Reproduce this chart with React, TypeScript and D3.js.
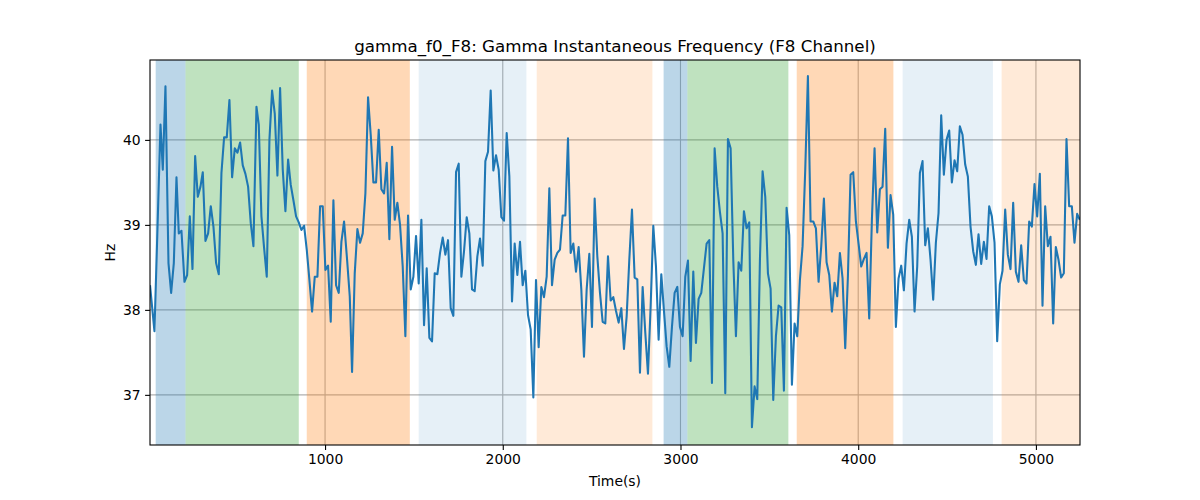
import React, { useEffect, useRef } from 'react';
import * as d3 from 'd3';

// time (s) of each sample
const times = [
  15, 40, 57, 74, 87, 102, 119, 134, 149, 164, 177, 192, 209, 224, 239, 254, 269, 284, 299, 312,
  327, 342, 357, 372, 387, 402, 417, 432, 447, 462, 477, 492, 507, 522, 537, 552, 567, 582, 597, 614,
  627, 642, 657, 672, 687, 702, 717, 732, 747, 762, 777, 792, 807, 822, 837, 852, 867, 882, 897, 912,
  927, 942, 957, 972, 987, 1002, 1017, 1032, 1047, 1062, 1077, 1092, 1107, 1124, 1139, 1152, 1167, 1182, 1197, 1212,
  1227, 1242, 1257, 1272, 1287, 1302, 1317, 1332, 1347, 1362, 1377, 1392, 1407, 1422, 1437, 1452, 1467, 1482, 1497, 1512,
  1527, 1542, 1557, 1572, 1587, 1602, 1617, 1632, 1647, 1662, 1677, 1692, 1707, 1722, 1737, 1752, 1767, 1782, 1797, 1812,
  1827, 1842, 1857, 1872, 1887, 1902, 1917, 1932, 1947, 1962, 1977, 1992, 2007, 2022, 2037, 2052, 2067, 2082, 2097, 2112,
  2127, 2142, 2157, 2172, 2187, 2202, 2217, 2232, 2247, 2262, 2277, 2292, 2307, 2322, 2337, 2352, 2367, 2382, 2397, 2412,
  2427, 2442, 2457, 2472, 2487, 2502, 2517, 2532, 2547, 2562, 2577, 2592, 2607, 2622, 2637, 2652, 2667, 2682, 2697, 2712,
  2727, 2742, 2757, 2772, 2787, 2802, 2817, 2832, 2847, 2862, 2877, 2892, 2907, 2922, 2937, 2952, 2967, 2982, 2997, 3012,
  3027, 3042, 3057, 3072, 3087, 3102, 3117, 3132, 3147, 3162, 3177, 3192, 3207, 3222, 3237, 3252, 3267, 3282, 3297, 3312,
  3327, 3342, 3357, 3372, 3387, 3402, 3417, 3432, 3447, 3462, 3477, 3492, 3507, 3522, 3537, 3552, 3567, 3582, 3597, 3612,
  3627, 3642, 3657, 3672, 3687, 3702, 3717, 3732, 3747, 3762, 3777, 3792, 3807, 3822, 3837, 3852, 3867, 3882, 3897, 3912,
  3927, 3942, 3957, 3972, 3987, 4002, 4017, 4032, 4047, 4062, 4077, 4092, 4107, 4122, 4137, 4152, 4167, 4182, 4197, 4212,
  4227, 4242, 4257, 4272, 4287, 4302, 4317, 4332, 4347, 4362, 4377, 4392, 4407, 4422, 4437, 4452, 4467, 4482, 4497, 4512,
  4527, 4542, 4557, 4572, 4587, 4602, 4617, 4632, 4647, 4662, 4677, 4692, 4707, 4722, 4737, 4752, 4767, 4782, 4797, 4812,
  4827, 4842, 4857, 4872, 4887, 4902, 4917, 4932, 4947, 4962, 4977, 4992, 5007, 5022, 5037, 5052, 5067, 5082, 5097, 5112,
  5127, 5142, 5157, 5172, 5187, 5202, 5217, 5232, 5247,
];

// instantaneous frequency (Hz)
const freq = [
  38.29, 37.75, 38.95, 40.18, 39.65, 40.63, 38.55, 38.2, 38.55, 39.56, 38.9, 38.93, 38.33, 38.41, 39.1, 38.48, 39.81, 39.33, 39.45, 39.62,
  38.81, 38.9, 39.22, 38.98, 38.55, 38.42, 39.61, 40.03, 40.03, 40.47, 39.56, 39.9, 39.85, 39.97, 39.7, 39.6, 39.45, 39.02, 38.75, 40.39,
  40.18, 39.1, 38.73, 38.39, 40.0, 40.58, 40.31, 39.58, 40.61, 39.65, 39.16, 39.77, 39.47, 39.29, 39.1, 39.03, 38.94, 38.99, 38.71, 38.35,
  37.98, 38.39, 38.39, 39.22, 39.22, 38.47, 38.52, 37.86, 39.29, 38.29, 38.2, 38.8, 39.04, 38.59, 38.16, 37.27, 38.43, 38.95, 38.79, 38.9,
  39.37, 40.5, 40.06, 39.5, 39.5, 40.12, 39.42, 39.37, 39.73, 38.83, 39.92, 39.06, 39.26, 39.0, 38.51, 37.69, 39.11, 38.24, 38.39, 38.87,
  38.31, 39.06, 37.82, 38.49, 37.67, 37.63, 38.43, 38.42, 38.67, 38.85, 38.65, 38.82, 38.02, 37.93, 39.62, 39.72, 38.39, 38.69, 39.09, 38.9,
  38.24, 38.22, 38.63, 38.84, 38.52, 39.75, 39.86, 40.58, 39.64, 39.82, 39.65, 39.09, 39.05, 40.08, 39.57, 38.1, 38.78, 38.41, 38.8, 38.29,
  38.46, 37.94, 37.77, 36.97, 38.35, 37.56, 38.27, 38.15, 38.39, 39.43, 38.29, 38.59, 38.67, 38.71, 39.11, 39.11, 40.02, 38.67, 38.78, 38.45,
  38.74, 38.24, 37.45, 38.24, 38.66, 37.8, 39.31, 38.63, 38.2, 37.86, 37.84, 38.63, 38.11, 38.15, 37.99, 37.85, 38.02, 37.54, 37.92, 38.59,
  39.18, 38.38, 38.36, 37.26, 38.27, 37.73, 37.25, 38.04, 38.99, 38.51, 37.65, 38.42, 37.99, 37.57, 37.33, 37.8, 38.2, 38.27, 37.8, 37.69,
  38.39, 38.58, 37.4, 38.45, 37.61, 38.13, 38.2, 38.49, 38.78, 38.82, 37.14, 39.9, 39.45, 39.15, 38.9, 37.02, 40.01, 39.9, 38.59, 37.69,
  38.56, 38.46, 39.16, 38.96, 39.03, 36.62, 37.1, 36.95, 38.59, 39.63, 39.33, 38.43, 38.25, 36.94, 37.69, 38.05, 38.03, 37.05, 39.2, 38.88,
  37.12, 37.84, 37.69, 38.35, 38.75, 39.65, 40.75, 39.04, 39.04, 38.96, 38.33, 38.75, 39.31, 38.56, 38.41, 37.98, 38.32, 38.16, 38.67, 38.37,
  37.55, 38.39, 39.59, 39.62, 39.04, 38.78, 38.51, 38.6, 38.67, 37.9, 39.06, 39.9, 38.91, 39.42, 39.45, 40.13, 38.73, 39.35, 39.12, 37.8,
  38.37, 38.52, 38.23, 38.78, 39.06, 38.86, 37.98, 38.51, 39.61, 39.75, 38.76, 38.96, 38.59, 38.12, 38.79, 39.14, 40.29, 39.59, 40.0, 40.11,
  39.5, 39.76, 39.63, 40.16, 40.06, 39.71, 39.57, 38.98, 38.69, 38.53, 38.89, 38.54, 38.8, 38.6, 39.22, 39.1, 38.79, 37.63, 38.3, 38.46,
  39.18, 38.65, 38.48, 39.26, 38.45, 38.33, 38.76, 38.35, 38.31, 39.04, 38.98, 39.48, 39.1, 39.6, 38.05, 39.22, 38.75, 38.86, 37.84, 38.74,
  38.59, 38.38, 38.43, 40.01, 39.22, 39.22, 38.79, 39.13, 39.06,
];

// shaded segments (start s, end s, colour, opacity)
const bandStart = [47, 215, 897, 1527, 2191, 2905, 3039, 3654, 4250, 4807];
const bandEnd = [215, 852, 1477, 2133, 2842, 3039, 3607, 4198, 4758, 5260];
const bandColor = ['#1f77b4', '#2ca02c', '#ff7f0e', '#1f77b4', '#ff7f0e', '#1f77b4', '#2ca02c', '#ff7f0e', '#1f77b4', '#ff7f0e'];
const bandAlpha = [0.3, 0.3, 0.3, 0.11, 0.16, 0.3, 0.3, 0.3, 0.11, 0.16];

const xTicks = [1000, 2000, 3000, 4000, 5000];
const yTicks = [37, 38, 39, 40];

const App = () => {
  const svgRef = useRef<SVGSVGElement>(null);

  useEffect(() => {
    const svg = d3.select(svgRef.current);
    svg.selectAll('*').remove();

    const width = 1200;
    const height = 500;
    const m = { left: 150, right: 1080, top: 60, bottom: 445 };
    const font = 'DejaVu Sans, sans-serif';

    svg.attr('width', width).attr('height', height);
    svg.append('rect').attr('width', width).attr('height', height).attr('fill', '#fff');

    const x = d3.scaleLinear().domain([15, 5248]).range([m.left, m.right]);
    const y = d3.scaleLinear().domain([36.41, 40.94]).range([m.bottom, m.top]);

    const plot = svg.append('g');

    // clip to the axes box
    svg.append('defs').append('clipPath').attr('id', 'plotclip')
      .append('rect')
      .attr('x', m.left).attr('y', m.top)
      .attr('width', m.right - m.left).attr('height', m.bottom - m.top);

    // grid
    plot.selectAll('.gx').data(xTicks).enter().append('line')
      .attr('x1', d => x(d)).attr('x2', d => x(d))
      .attr('y1', m.top).attr('y2', m.bottom)
      .attr('stroke', '#b0b0b0').attr('stroke-width', 1.1);
    plot.selectAll('.gy').data(yTicks).enter().append('line')
      .attr('x1', m.left).attr('x2', m.right)
      .attr('y1', d => y(d)).attr('y2', d => y(d))
      .attr('stroke', '#b0b0b0').attr('stroke-width', 1.1);

    // shaded spans
    plot.append('g').attr('clip-path', 'url(#plotclip)')
      .selectAll('rect')
      .data(bandStart.map((s, i) => ({ s, e: bandEnd[i], c: bandColor[i], a: bandAlpha[i] })))
      .enter().append('rect')
      .attr('x', d => x(d.s))
      .attr('width', d => x(d.e) - x(d.s))
      .attr('y', m.top)
      .attr('height', m.bottom - m.top)
      .attr('fill', d => d.c)
      .attr('fill-opacity', d => d.a);

    // signal line
    const line = d3.line<number>()
      .x((_, i) => x(times[i]))
      .y(d => y(d));

    plot.append('path')
      .attr('clip-path', 'url(#plotclip)')
      .datum(freq)
      .attr('d', line)
      .attr('fill', 'none')
      .attr('stroke', '#1f77b4')
      .attr('stroke-width', 2.08)
      .attr('stroke-linejoin', 'round');

    // frame
    svg.append('rect')
      .attr('x', m.left).attr('y', m.top)
      .attr('width', m.right - m.left).attr('height', m.bottom - m.top)
      .attr('fill', 'none').attr('stroke', '#000').attr('stroke-width', 1.1);

    // x axis
    const xAxis = svg.append('g')
      .attr('transform', `translate(0,${m.bottom})`)
      .call(d3.axisBottom(x).tickValues(xTicks).tickSize(4.9).tickPadding(4.5).tickFormat(d3.format('d')));
    xAxis.select('.domain').remove();
    xAxis.selectAll('line').attr('stroke', '#000').attr('stroke-width', 1.1);
    xAxis.selectAll('text').attr('font-family', font).attr('font-size', '13.9px').attr('fill', '#000');

    // y axis
    const yAxis = svg.append('g')
      .attr('transform', `translate(${m.left},0)`)
      .call(d3.axisLeft(y).tickValues(yTicks).tickSize(4.9).tickPadding(4.5).tickFormat(d3.format('d')));
    yAxis.select('.domain').remove();
    yAxis.selectAll('line').attr('stroke', '#000').attr('stroke-width', 1.1);
    yAxis.selectAll('text').attr('font-family', font).attr('font-size', '13.9px').attr('fill', '#000');

    // labels
    svg.append('text')
      .attr('x', (m.left + m.right) / 2).attr('y', 52)
      .attr('text-anchor', 'middle')
      .attr('font-family', font).attr('font-size', '16.7px')
      .text('gamma_f0_F8: Gamma Instantaneous Frequency (F8 Channel)');

    svg.append('text')
      .attr('x', (m.left + m.right) / 2).attr('y', 486)
      .attr('text-anchor', 'middle')
      .attr('font-family', font).attr('font-size', '13.9px')
      .text('Time(s)');

    svg.append('text')
      .attr('transform', `translate(115,${(m.top + m.bottom) / 2}) rotate(-90)`)
      .attr('text-anchor', 'middle')
      .attr('font-family', font).attr('font-size', '13.9px')
      .text('Hz');
  }, []);

  return (
    <div style={{ position: 'absolute', left: 0, top: 0 }}>
      <svg ref={svgRef} style={{ display: 'block' }}></svg>
    </div>
  );
};

export default App;
